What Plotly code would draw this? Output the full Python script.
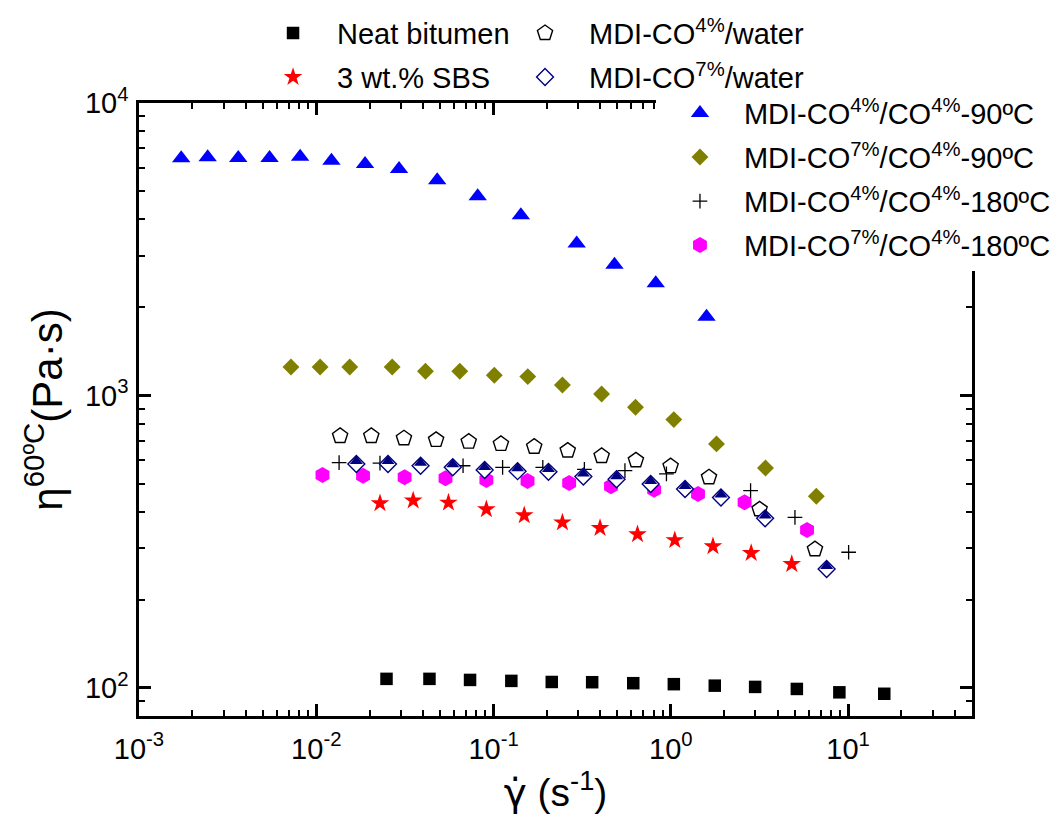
import plotly.graph_objects as go

# ---------------- data ----------------
neat_x = [0.0249, 0.0435, 0.0737, 0.126, 0.213, 0.360, 0.614, 1.04, 1.77, 2.99, 5.14, 8.93, 16.0]
neat_y = [107.4, 107.4, 106.5, 105.7, 104.8, 104.6, 103.8, 103.0, 101.8, 100.8, 99.2, 96.6, 95.5]

sbs_x = [0.02288, 0.03521, 0.05568, 0.0911, 0.149, 0.2446, 0.3988, 0.6487, 1.053, 1.729, 2.84, 4.811]
sbs_y = [428, 437, 430, 408, 389, 368, 352, 335, 320, 305, 289, 265]

w4_x = [0.01363, 0.02044, 0.03123, 0.04742, 0.07244, 0.11005, 0.1696, 0.2621, 0.4072, 0.6354, 0.9975, 1.642, 3.168, 6.505]
w4_y = [727, 727, 714, 705, 695, 683, 668, 648, 621, 600, 573, 525, 408, 298]

w7_x = [0.01683, 0.02538, 0.03876, 0.05888, 0.0891, 0.1366, 0.2041, 0.3211, 0.4943, 0.7697, 1.203, 1.918, 3.405, 7.568]
w7_y = [583, 583, 575, 568, 556, 551, 548, 528, 517, 498, 479, 448, 380, 255]

c44_90_x = [0.00173, 0.00244, 0.00363, 0.00545, 0.00811, 0.01218, 0.01884, 0.0293, 0.0481, 0.0814, 0.1426, 0.2944, 0.481, 0.822, 1.59]
c44_90_y = [6470, 6520, 6490, 6490, 6550, 6350, 6190, 5950, 5440, 4800, 4130, 3310, 2800, 2420, 1860]

c74_90_x = [0.0072, 0.01051, 0.01545, 0.0268, 0.0413, 0.0645, 0.101, 0.156, 0.2446, 0.407, 0.632, 1.04, 1.81, 3.42, 6.62]
c74_90_y = [1251, 1251, 1251, 1251, 1210, 1210, 1173, 1160, 1086, 1012, 911, 827, 683, 565, 452]

c44_180_x = [0.01345, 0.02288, 0.0673, 0.1125, 0.1896, 0.3254, 0.5511, 0.9447, 2.818, 5.015, 10.07]
c44_180_y = [589, 587, 575, 568, 568, 559, 553, 539, 473, 383, 291]

c74_180_x = [0.01084, 0.01836, 0.0315, 0.05357, 0.0911, 0.1555, 0.267, 0.4597, 0.8056, 1.424, 2.607, 5.867]
c74_180_y = [535, 531, 525, 521, 514, 510, 502, 489, 476, 460, 431, 347]

x_tickvals = [1e-3, 1e-2, 1e-1, 1e0, 1e1]
x_ticktext = ["10<sup>-3</sup>", "10<sup>-2</sup>", "10<sup>-1</sup>", "10<sup>0</sup>", "10<sup>1</sup>"]
y_tickvals = [1e2, 1e3, 1e4]
y_ticktext = ["10<sup>2</sup>", "10<sup>3</sup>", "10<sup>4</sup>"]

names = {
    "neat": "Neat bitumen",
    "sbs": "3 wt.% SBS",
    "w4": "MDI-CO<sup>4%</sup>/water",
    "w7": "MDI-CO<sup>7%</sup>/water",
    "c44_90": "MDI-CO<sup>4%</sup>/CO<sup>4%</sup>-90ºC",
    "c74_90": "MDI-CO<sup>7%</sup>/CO<sup>4%</sup>-90ºC",
    "c44_180": "MDI-CO<sup>4%</sup>/CO<sup>4%</sup>-180ºC",
    "c74_180": "MDI-CO<sup>7%</sup>/CO<sup>4%</sup>-180ºC",
}

FONT = "Liberation Sans, Arial, sans-serif"
NAVY = "#000080"

fig = go.Figure()

def add(x, y, key, legend, rank, marker):
    fig.add_trace(go.Scatter(
        x=x, y=y, mode="markers", name=names[key], legend=legend,
        legendgroup=key, legendrank=rank, marker=marker,
    ))

add(neat_x, neat_y, "neat", "legend", 1,
    dict(symbol="square", size=12.5, color="black", line=dict(width=0)))
add(sbs_x, sbs_y, "sbs", "legend", 2,
    dict(symbol="star", size=14, color="red", line=dict(width=0)))
add(c44_90_x, c44_90_y, "c44_90", "legend3", 1,
    dict(symbol="triangle-up", size=16, color="blue", line=dict(width=0)))
add(c74_90_x, c74_90_y, "c74_90", "legend3", 2,
    dict(symbol="diamond", size=13, color="#808000", line=dict(width=0)))
add(c74_180_x, c74_180_y, "c74_180", "legend3", 4,
    dict(symbol="hexagon", size=16, color="#FF00FF", line=dict(width=0)))
add(w4_x, w4_y, "w4", "legend2", 1,
    dict(symbol="pentagon", size=16, color="white", line=dict(width=1.4, color="black")))
add(c44_180_x, c44_180_y, "c44_180", "legend3", 3,
    dict(symbol="cross-thin", size=10.5, color="black", line=dict(width=1.3, color="black")))
add(w7_x, w7_y, "w7", "legend2", 2,
    dict(symbol="diamond", size=13, color="white", line=dict(width=1.4, color=NAVY)))
# filled upper half of the half-filled diamonds
fig.add_trace(go.Scatter(
    x=w7_x, y=w7_y, mode="markers", showlegend=False, hoverinfo="skip",
    marker=dict(symbol="triangle-down", angle=180, standoff=2.8, size=11.3,
                color=NAVY, line=dict(width=0)),
))

x_minor = [m * 10.0 ** e for e in range(-3, 2) for m in range(2, 10) if m * 10.0 ** e < 50]
y_minor = [m * 10.0 ** e for e in range(1, 4) for m in range(2, 10) if m * 10.0 ** e > 80]

axis_common = dict(
    type="log", showline=True, linewidth=2.5, linecolor="black", mirror="allticks",
    ticks="inside", ticklen=12, tickwidth=2.5, tickcolor="black",
    tickmode="array", showgrid=False, zeroline=False,
    tickfont=dict(family=FONT, size=29, color="black"),
)

fig.update_xaxes(
    **axis_common, range=[-3, 1.699],
    tickvals=x_tickvals, ticktext=x_ticktext, ticklabelstandoff=5,
    minor=dict(tickmode="array", tickvals=x_minor, ticks="inside", ticklen=6,
               tickwidth=2, tickcolor="black", showgrid=False),
    title=dict(text='<span style="font-family:DejaVu Sans">γ̇</span> (s<sup>-1</sup>)',
               font=dict(family=FONT, size=39, color="black"), standoff=2),
)
fig.update_yaxes(
    **axis_common, range=[1.904, 4.0],
    tickvals=y_tickvals, ticktext=y_ticktext, ticklabelstandoff=2,
    minor=dict(tickmode="array", tickvals=y_minor, ticks="inside", ticklen=6,
               tickwidth=2, tickcolor="black", showgrid=False),
    title=dict(text="η<sup>60ºC</sup>(Pa·s)", font=dict(family=FONT, size=42, color="black"), standoff=10),
)

leg_common = dict(
    xanchor="left", yanchor="top", font=dict(family=FONT, size=29, color="black"),
    itemwidth=78, tracegroupgap=3.3, traceorder="grouped", borderwidth=0,
)
# the page body adds an 8 px offset, so the figure is 8 px smaller and margins shifted
fig.update_layout(
    width=1051, height=809,
    margin=dict(l=131, r=87, t=95, b=101, autoexpand=False),
    paper_bgcolor="white", plot_bgcolor="white",
    legend=dict(**leg_common, x=0.1321, y=1.1555, bgcolor="rgba(0,0,0,0)"),
    legend2=dict(**leg_common, x=0.4346, y=1.1555, bgcolor="rgba(0,0,0,0)"),
    legend3=dict(**leg_common, x=0.6206, y=1.025, bgcolor="white"),
    font=dict(family=FONT, color="black"),
)

fig.write_html("out.html")
